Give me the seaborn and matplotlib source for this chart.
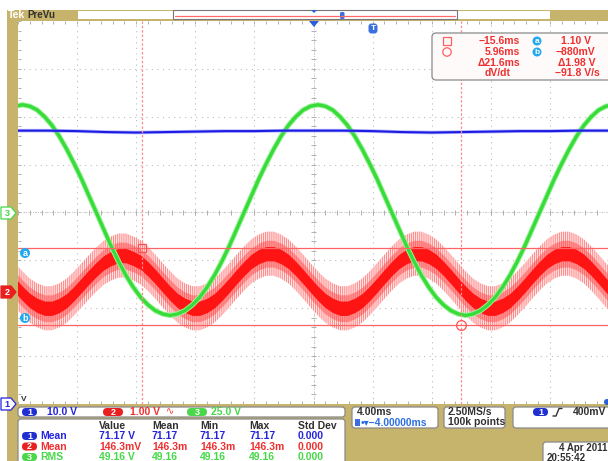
import numpy as np
import pandas as pd
import matplotlib
matplotlib.use("Agg")
import matplotlib.pyplot as plt
import seaborn as sns
from matplotlib.patches import FancyBboxPatch, Rectangle, Polygon, Circle

# ---- trace data: time in ms, amplitude in screen divisions ----
t_ms = np.arange(-24.2, 16.31, 0.5)  # sample times of the traces

# channel 3 (green, 25 V/div)
ch3_div = [2.22, 2.25, 2.22, 2.14, 2.00, 1.82, 1.59, 1.32, 1.02, 0.70, 0.35, 0.00,
           -0.35, -0.70, -1.02, -1.31, -1.56, -1.77, -1.93, -2.05, -2.12, -2.15,
           -2.12, -2.05, -1.93, -1.77, -1.56, -1.31, -1.02, -0.70, -0.35, 0.00,
           0.35, 0.70, 1.02, 1.32, 1.59, 1.82, 2.00, 2.14, 2.22, 2.25,
           2.22, 2.14, 2.00, 1.82, 1.59, 1.32, 1.02, 0.70, 0.35, 0.00,
           -0.35, -0.70, -1.02, -1.31, -1.56, -1.77, -1.93, -2.05, -2.12, -2.15,
           -2.12, -2.05, -1.93, -1.77, -1.56, -1.31, -1.02, -0.70, -0.35, 0.00,
           0.35, 0.70, 1.02, 1.32, 1.59, 1.82, 2.00, 2.14, 2.22, 2.25]

# channel 2 (red, 1.00 V/div) - centre of the noisy band
ch2_div = [-1.52, -1.69, -1.84, -1.94, -2.00, -2.00, -1.94, -1.84, -1.69, -1.52,
           -1.35, -1.19, -1.05, -0.96, -0.90, -0.90, -0.96, -1.04, -1.18, -1.34,
           -1.52, -1.69, -1.84, -1.94, -2.00, -2.00, -1.94, -1.84, -1.69, -1.52,
           -1.34, -1.17, -1.02, -0.92, -0.86, -0.86, -0.92, -1.02, -1.17, -1.34,
           -1.52, -1.69, -1.84, -1.94, -2.00, -2.00, -1.94, -1.84, -1.69, -1.52,
           -1.34, -1.17, -1.02, -0.92, -0.86, -0.86, -0.92, -1.02, -1.17, -1.34,
           -1.52, -1.69, -1.84, -1.94, -2.00, -2.00, -1.94, -1.84, -1.69, -1.52,
           -1.34, -1.17, -1.02, -0.92, -0.86, -0.86, -0.92, -1.02, -1.17, -1.34,
           -1.52, -1.69]
ch2_spike = 0.46   # half height of the spiky outer band
ch2_mid = 0.28
ch2_core = 0.15

# channel 1 (blue, 10.0 V/div)
ch1_t = np.arange(-24, 16.1, 2)
ch1_div = [1.71, 1.71, 1.70, 1.68, 1.67, 1.68, 1.69, 1.70, 1.70, 1.71, 1.71,
           1.71, 1.70, 1.68, 1.67, 1.68, 1.69, 1.70, 1.70, 1.71, 1.71]

# cursors
cursor_t = [-15.6, 5.96]
cursor_v = [-0.75, -2.34]

readout_left = ["\u221215.6ms", "5.96ms", "\u039421.6ms"]
readout_right = ["1.10 V", "\u2212880mV", "\u03941.98 V", "\u221291.8 V/s"]

table_header = ["Value", "Mean", "Min", "Max", "Std Dev"]
table_rows = [
    ("1", "Mean", ["71.17 V", "71.17", "71.17", "71.17", "0.000"]),
    ("2", "Mean", ["146.3mV", "146.3m", "146.3m", "146.3m", "0.000"]),
    ("3", "RMS", ["49.16 V", "49.16", "49.16", "49.16", "0.000"]),
]

OLIVE = "#c6b36c"
BLUE = "#2424e0"
RED = "#f03030"
GREEN = "#46d846"
CYAN = "#22a8ec"
GRID = "#bcbcbc"
DARK = "#303030"

sns.set_style("white")
plt.rcParams["font.family"] = ["Liberation Sans", "DejaVu Sans"]
plt.rcParams["hatch.linewidth"] = 0.5
plt.rcParams["hatch.color"] = "#ff6a6a"

fig = plt.figure(figsize=(6.08, 4.61), dpi=100)

# background frame in pixel coordinates
bg = fig.add_axes([0, 0, 1, 1])
bg.set_xlim(0, 608)
bg.set_ylim(461, 0)
bg.axis("off")
bg.add_patch(Rectangle((7, 10), 601, 451, color=OLIVE, lw=0))
bg.add_patch(Rectangle((18, 21), 591, 383, color="white", lw=0))

# graticule / traces
ax = fig.add_axes([18 / 608, 57 / 461, 591 / 608, 383 / 461])
ax.set_zorder(1)
ax.set_xlim(-24, 16)
ax.set_ylim(-4, 4)
ax.axis("off")

for x in np.arange(-20, 16, 4):
    ax.axvline(x, color=GRID, lw=0.8, ls=(0, (1, 4)), zorder=0)
for y in range(-3, 4):
    ax.axhline(y, color=GRID, lw=0.8, ls=(0, (1, 4)), zorder=0)
ax.axvline(-4, color="#c4c4c4", lw=0.7, ls=(0, (1, 1.5)), zorder=0)
ax.axhline(0, color="#c4c4c4", lw=0.7, ls=(0, (1, 1.5)), zorder=0)
minor_x = np.arange(-24, 16.01, 0.8)
minor_y = np.arange(-4, 4.01, 0.2)
ax.vlines(minor_x, -0.06, 0.06, color="#b0b0b0", lw=0.7, zorder=0)
ax.vlines(minor_x, 3.94, 4, color="#b0b0b0", lw=0.7, zorder=0)
ax.vlines(minor_x, -4, -3.94, color="#b0b0b0", lw=0.7, zorder=0)
ax.hlines(minor_y, -4.2, -3.8, color="#b0b0b0", lw=0.7, zorder=0)
ax.hlines(minor_y, -24, -23.8, color="#b0b0b0", lw=0.7, zorder=0)

red = pd.DataFrame({"t": t_ms, "v": ch2_div})
ax.fill_between(red["t"], red["v"] - ch2_spike, red["v"] + ch2_spike,
                facecolor="#ffe2e2", edgecolor="#ff6a6a", hatch="||||||||", lw=0, zorder=2)
ax.fill_between(red["t"], red["v"] - ch2_mid, red["v"] + ch2_mid,
                color="#ff4a4a", alpha=0.5, lw=0, zorder=2)
ax.fill_between(red["t"], red["v"] - ch2_core, red["v"] + ch2_core,
                color="#ff1414", lw=0, zorder=2)

green = pd.DataFrame({"t": t_ms, "v": ch3_div})
sns.lineplot(data=green, x="t", y="v", ax=ax, color="#9cf29c", lw=3.8,
             estimator=None, sort=False, zorder=3)
sns.lineplot(data=green, x="t", y="v", ax=ax, color="#38dc38", lw=2.4,
             estimator=None, sort=False, zorder=3)

blue = pd.DataFrame({"t": ch1_t, "v": ch1_div})
sns.lineplot(data=blue, x="t", y="v", ax=ax, color="#8a8aff", lw=2.6,
             estimator=None, sort=False, zorder=4, alpha=0.6)
sns.lineplot(data=blue, x="t", y="v", ax=ax, color="#1c1ce4", lw=1.5,
             estimator=None, sort=False, zorder=4)

for c in cursor_t:
    ax.axvline(c, color="#ff8c8c", lw=0.9, ls=(0, (2, 1.5)), zorder=5)
for v in cursor_v:
    ax.axhline(v, color="#ff6464", lw=0.9, zorder=5)
ax.plot(cursor_t[0], cursor_v[0], marker="s", ms=6, mfc="none", mec="#ff5050", mew=0.9, zorder=6)
ax.plot(cursor_t[1], cursor_v[1], marker="o", ms=7, mfc="none", mec="#ff5050", mew=0.9, zorder=6)
ax.set_xlabel("")
ax.set_ylabel("")

# overlay: labels, readouts and panels in pixel coordinates
ov = fig.add_axes([0, 0, 1, 1])
ov.set_zorder(3)
ov.set_xlim(0, 608)
ov.set_ylim(461, 0)
ov.axis("off")


def rbox(x0, y0, x1, y1, r=3, fc="white"):
    ov.add_patch(FancyBboxPatch((x0, y0), x1 - x0, y1 - y0,
                                boxstyle=f"round,pad=0,rounding_size={r}",
                                fc=fc, ec="#8a8a8a", lw=0.9))


def pill(x0, x1, yc, color, label):
    ov.add_patch(FancyBboxPatch((x0, yc - 4), x1 - x0, 8,
                                boxstyle="round,pad=0,rounding_size=4", fc=color, ec="none"))
    ov.text((x0 + x1) / 2, yc + 0.3, label, color="white", fontsize=6.5,
            fontweight="bold", ha="center", va="center")


def txt(x, y, s, color, ha="left", size=7.5):
    ov.text(x, y, s, color=color, fontsize=size, fontweight="bold", ha=ha, va="center")


def pointer(yc, fc, ec, label, tc):
    ov.add_patch(Polygon([(1, yc - 6), (11, yc - 6), (16, yc), (11, yc + 6), (1, yc + 6)],
                         closed=True, fc=fc, ec=ec, lw=0.9))
    ov.text(7, yc + 0.3, label, color=tc, fontsize=6.5, fontweight="bold", ha="center", va="center")


# top bar
txt(8, 15.5, "Tek", "white", size=7.5)
txt(27, 15.5, "PreVu", DARK, size=7)
ov.add_patch(Rectangle((78, 11), 472, 8.5, fc="white", ec="none"))
ov.add_patch(Rectangle((173, 10.5), 284, 9, fc="none", ec="#777777", lw=0.8))
ov.plot([175, 455], [16.5, 16.5], color="#ff6b6b", lw=0.9)
ov.add_patch(FancyBboxPatch((340, 12), 4.5, 7, boxstyle="round,pad=0,rounding_size=1.5",
                            fc="#3b6fe0", ec="none"))
ov.add_patch(Polygon([(311, 10), (317, 10), (314, 13)], fc="#2b5fd9", ec="none"))
ov.add_patch(Polygon([(309, 21), (319, 21), (314, 27)], fc="#2b5fd9", ec="none"))
ov.add_patch(FancyBboxPatch((368.5, 23.5), 9, 10, boxstyle="round,pad=0,rounding_size=3",
                            fc="#3b6fe0", ec="none"))
ov.text(373, 28.8, "T", color="white", fontsize=6, fontweight="bold", ha="center", va="center")

# left markers
pointer(213, "white", GREEN, "3", GREEN)
pointer(292, "#e82020", "#e82020", "2", "white")
pointer(404, "white", BLUE, "1", BLUE)
txt(21, 399, "V", DARK, size=6)
for yc, lab in [(253, "a"), (318, "b")]:
    ov.add_patch(Circle((25, yc), 5, fc=CYAN, ec="none"))
    ov.text(25, yc + 0.3, lab, color="white", fontsize=6.5, fontweight="bold", ha="center", va="center")

# cursor readout
rbox(432, 33, 614, 80, r=4, fc="#fffafa")
ov.add_patch(Rectangle((443, 37), 8, 8, fc="none", ec="#ff6060", lw=0.9))
ov.add_patch(Circle((447, 52), 4.2, fc="none", ec="#ff6060", lw=0.9))
for i, s in enumerate(readout_left):
    txt(520, 41 + 11 * i, s, RED, ha="right")
txt(498, 73, "dV/dt", RED, ha="center")
for yc, lab in [(41, "a"), (52, "b")]:
    ov.add_patch(Circle((537, yc), 4.5, fc=CYAN, ec="none"))
    ov.text(537, yc + 0.3, lab, color="white", fontsize=6, fontweight="bold", ha="center", va="center")
for s, x, y in zip(readout_right, [591, 595, 596, 600], [41, 52, 63, 73]):
    txt(x, y, s, RED, ha="right")

# channel scale box
rbox(18, 407, 345, 417, r=3)
pill(22, 37, 412, "#1f2fd0", "1")
txt(47, 412, "10.0 V", BLUE)
pill(103, 123, 412, "#e82020", "2")
txt(130, 412, "1.00 V", RED)
ov.text(166, 411, "\u223f", color=RED, fontsize=7, ha="left", va="center",
        family=["DejaVu Sans"])
pill(187, 207, 412, "#4ad84a", "3")
txt(211, 412, "25.0 V", GREEN)

# measurement table
rbox(18, 419, 345, 475, r=3)
cols = [99, 152, 200, 249, 298]
for x, h in zip(cols, table_header):
    txt(x, 426, h, DARK)
row_colors = [BLUE, RED, GREEN]
pill_colors = ["#1f2fd0", "#e82020", "#4ad84a"]
for i, (num, lab, vals) in enumerate(table_rows):
    y = 436 + 10.5 * i
    pill(22, 37, y, pill_colors[i], num)
    txt(40, y, lab, row_colors[i])
    for x, v in zip(cols, vals):
        txt(x, y, v, row_colors[i])

# timebase / acquisition / trigger boxes
rbox(352, 407, 438, 428, r=3)
txt(357, 412, "4.00ms", DARK)
ov.add_patch(Rectangle((355, 418.5), 5, 7, fc="#3b6fe0", ec="none"))
ov.text(361, 422.5, "\u2022\u25be\u22124.00000ms", color="#2b6fe0", fontsize=7.4,
        fontweight="bold", ha="left", va="center")
rbox(444, 407, 505, 428, r=3)
txt(448, 412, "2.50MS/s", DARK)
txt(448, 422, "100k points", DARK)
rbox(513, 407, 614, 428, r=3)
pill(533, 548, 412, "#1f2fd0", "1")
ov.plot([553, 556, 559, 562], [416, 416, 408.5, 408.5], color=DARK, lw=1.0)
txt(573, 412, "400mV", DARK)
ov.add_patch(Circle((607, 402), 3, fc="#2b5fd9", ec="none"))

# date
rbox(543, 442, 614, 475, r=3)
txt(607, 448, "4 Apr 2011", DARK, ha="right", size=7)
txt(547, 457.5, "20:55:42", DARK, size=7)

fig.savefig("out.png", dpi=100)
